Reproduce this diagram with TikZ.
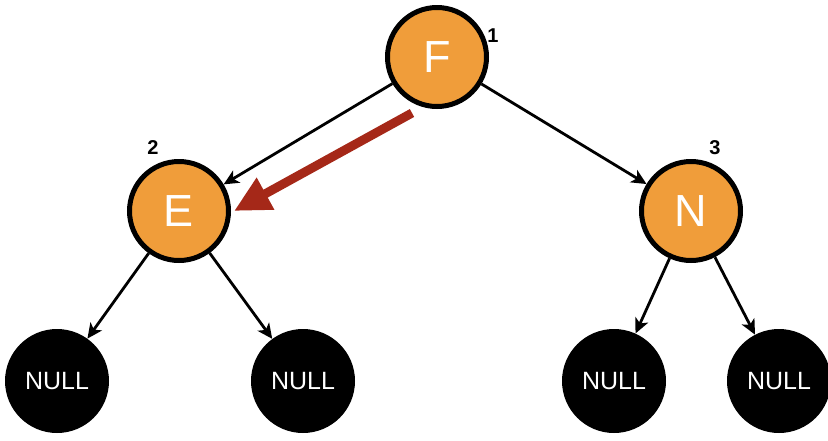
\documentclass[tikz,border=0pt]{standalone}
\usepackage{fontspec}
\setmainfont{Liberation Sans}
\usetikzlibrary{arrows.meta}
\definecolor{nodeorange}{RGB}{240,157,58}
\definecolor{arrowred}{RGB}{165,40,24}
\begin{document}
\begin{tikzpicture}[x=1pt,y=-1pt,
  keynode/.style={circle,draw=black,line width=5pt,fill=nodeorange,minimum size=99pt,inner sep=0pt,text=white,font=\fontsize{45}{45}\selectfont},
  nullnode/.style={circle,fill=black,minimum size=104pt,inner sep=0pt,text=white,font=\fontsize{25}{25}\selectfont},
  numlabel/.style={font=\bfseries\fontsize{20}{20}\selectfont,inner sep=0pt},
  edge/.style={line width=2.8pt,-{Stealth[length=15pt,width=14pt,inset=4pt]}},
  bigarrow/.style={line width=9pt,draw=arrowred,-{Triangle[length=36pt,width=34pt]}}]
\useasboundingbox (0,0) rectangle (828,440);
\node[keynode] (F) at (437,57) {F};
\node[keynode] (E) at (179,211) {E};
\node[keynode] (N) at (691,211) {N};
\node[nullnode] (n1) at (57,381) {NULL};
\node[nullnode] (n2) at (303,381) {NULL};
\node[nullnode] (n3) at (614,381) {NULL};
\node[nullnode] (n4) at (779,381) {NULL};
\node[numlabel] (l1) at (493,36) {1};
\node[numlabel] (l2) at (153,148) {2};
\node[numlabel] (l3) at (715,148) {3};
\draw[edge] (F) -- (E);
\draw[edge] (F) -- (N);
\draw[edge] (E) -- (n1);
\draw[edge] (E) -- (n2);
\draw[edge] (N) -- (n3);
\draw[edge] (N) -- (n4);
\coordinate (rt) at (412,113);
\coordinate (rh) at (234,211);
\draw[bigarrow] (rt) -- (rh);
\end{tikzpicture}
\end{document}
